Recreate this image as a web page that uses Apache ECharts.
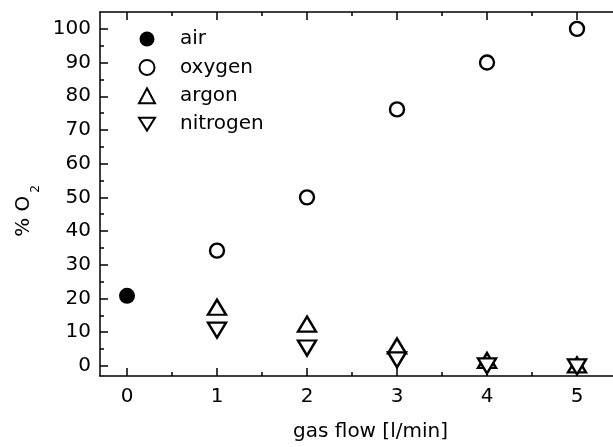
<!DOCTYPE html>
<html>
<head>
<meta charset="utf-8">
<script src="https://cdn.jsdelivr.net/npm/echarts@6/dist/echarts.min.js"></script>
<style>
  html, body { margin: 0; padding: 0; background: #fff; }
  #chart-panel { width: 613px; height: 447px; }
</style>
</head>
<body>
<div id="chart-panel"></div>
<script>
// gas flow in l/min
const airX = [0]
const airY = [20.8]
const flowX = [1, 2, 3, 4, 5]
const oxygenY = [34.2, 50, 76.1, 90, 100]
const argonY = [17.4, 12.4, 5.9, 1.6, 0.3]
const nitrogenY = [10.6, 5.3, 1.8, 0, -0.3]

const xMajor = [0, 1, 2, 3, 4, 5]
const xMinor = [0.5, 1.5, 2.5, 3.5, 4.5]
const yMajor = [0, 10, 20, 30, 40, 50, 60, 70, 80, 90, 100]
const yMinor = [5, 15, 25, 35, 45, 55, 65, 75, 85, 95]

! function(){
    const font = '"DejaVu Sans", Arial, sans-serif'
    const black = '#000'
    const downTri = 'path://M0,0 L20,0 L10,16 Z'

    /* 坐标轴工厂. */
    function xAx(pos, ticks, len, showLine, showLabel) {
        return {
            type: 'value', position: pos, min: -0.3, max: 5.4,
            axisLine: { show: showLine, onZero: false, lineStyle: { color: black, width: 1.5 } },
            axisTick: { show: true, inside: true, length: len, customValues: ticks, lineStyle: { color: black, width: 1.5 } },
            axisLabel: { show: showLabel, customValues: ticks, color: black, fontSize: 20, fontFamily: font, margin: 11 },
            splitLine: { show: false }
        }
    }
    function yAx(ticks, len, showLine, showLabel) {
        return {
            type: 'value', position: 'left', min: -3, max: 105,
            axisLine: { show: showLine, onZero: false, lineStyle: { color: black, width: 1.5 } },
            axisTick: { show: true, inside: true, length: len, customValues: ticks, lineStyle: { color: black, width: 1.5 } },
            axisLabel: { show: showLabel, customValues: ticks, color: black, fontSize: 20, fontFamily: font, margin: 9 },
            splitLine: { show: false }
        }
    }

    function pts(xs, ys) {
        return xs.map((x, i) => [x, ys[i]])
    }

    const markerStyle = { color: '#fff', borderColor: black, borderWidth: 2.4, opacity: 1 }

    let xBottom = xAx('bottom', xMajor, 8, true, true)
    xBottom.name = 'gas flow [l/min]'
    xBottom.nameLocation = 'middle'
    xBottom.nameGap = 46
    xBottom.nameTextStyle = { color: black, fontSize: 20, fontFamily: font, padding: [0, 0, 0, 28] }

    let yLeft = yAx(yMajor, 8, true, true)
    yLeft.name = '% O{sub|2}'
    yLeft.nameLocation = 'middle'
    yLeft.nameGap = 66
    yLeft.nameTextStyle = {
        color: black, fontSize: 20, fontFamily: font, padding: [0, 34, 0, 0],
        rich: { sub: { fontSize: 12, fontFamily: font, color: black, verticalAlign: 'bottom', padding: [0, 0, -8, 3] } }
    }

    let myChart = echarts.init(document.getElementById('chart-panel'))
    myChart.setOption({
        animation: false,
        backgroundColor: '#fff',
        grid: { left: 100, top: 12, right: -2, bottom: 69 },
        legend: {
            orient: 'vertical', left: 133, top: 24,
            itemWidth: 16, itemHeight: 15, itemGap: 8.4,
            textStyle: { color: black, fontSize: 20, fontFamily: font, padding: [0, 0, 0, 20] },
            data: [
                { name: 'air', icon: 'circle' },
                { name: 'oxygen', icon: 'circle' },
                { name: 'argon', icon: 'triangle' },
                { name: 'nitrogen', icon: downTri }
            ]
        },
        xAxis: [
            xBottom,
            xAx('bottom', xMinor, 4, false, false),
            xAx('top', xMajor, 8, true, false),
            xAx('top', xMinor, 4, false, false)
        ],
        yAxis: [
            yLeft,
            yAx(yMinor, 4, false, false)
        ],
        series: [
            {
                name: 'air', type: 'scatter', symbol: 'circle', symbolSize: 16,
                itemStyle: { color: black, borderColor: black, borderWidth: 0, opacity: 1 },
                data: pts(airX, airY)
            },
            {
                name: 'oxygen', type: 'scatter', symbol: 'circle', symbolSize: 14,
                itemStyle: markerStyle, data: pts(flowX, oxygenY)
            },
            {
                name: 'argon', type: 'scatter', symbol: 'triangle', symbolSize: [18, 15],
                itemStyle: markerStyle, data: pts(flowX, argonY)
            },
            {
                name: 'nitrogen', type: 'scatter', symbol: downTri, symbolSize: [18, 15],
                itemStyle: markerStyle, data: pts(flowX, nitrogenY)
            }
        ]
    })
}()
</script>
</body>
</html>
